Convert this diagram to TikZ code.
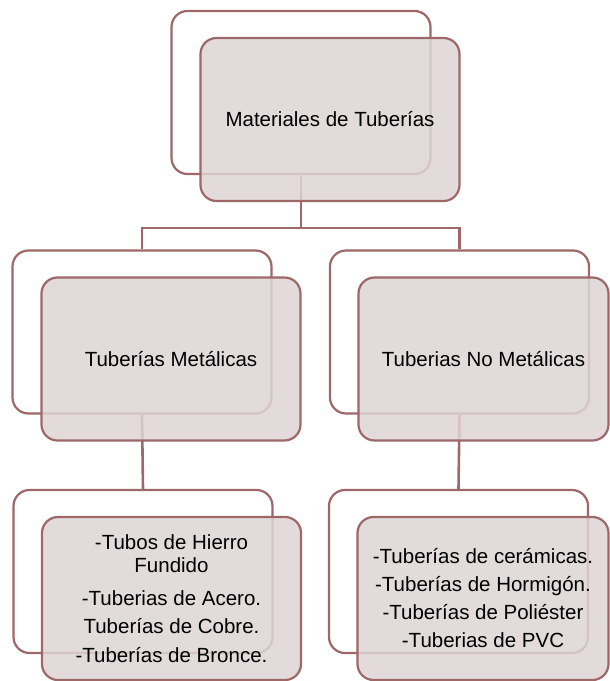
\documentclass[tikz,border=0pt]{standalone}
\usepackage{fontspec}
\setmainfont{Liberation Sans}
\usepackage{tikz}
\usetikzlibrary{positioning, calc}
\definecolor{boxline}{RGB}{158,104,104}
\definecolor{boxfill}{RGB}{222,213,213}
\tikzstyle{backbox} = [rectangle, rounded corners=16pt, minimum width=259pt, minimum height=163pt, draw=boxline, line width=2.2pt, fill=white]
\tikzstyle{frontbox} = [rectangle, rounded corners=16pt, minimum width=259pt, minimum height=163pt, draw=boxline, line width=2.2pt, fill=boxfill, fill opacity=0.85, text opacity=1, align=center, font=\fontsize{20.5}{23}\selectfont]
\tikzstyle{link} = [draw=boxline, line width=2.6pt]

\begin{document}
\begin{tikzpicture}[x=1pt, y=1pt]
    \useasboundingbox (0,0) rectangle (610,681);

    % Back boxes
    \node (top-back) [backbox] at (301,588.5) {};
    \node (metal-back) [backbox] at (142,349) {};
    \node (nometal-back) [backbox] at (459.5,349) {};
    \node (metal-list-back) [backbox] at (143,109.5) {};
    \node (nometal-list-back) [backbox] at (458.5,109.5) {};

    % Connectors
    \coordinate (split) at ($(top-back.south)+(0,-53)$);
    \draw [link] (top-back.south) -- (split);
    \draw [link] (split) -| (metal-back.north);
    \draw [link] (split) -| (nometal-back.north);
    \draw [link] (metal-back.south) -- (metal-list-back.north);
    \draw [link] (nometal-back.south) -- (nometal-list-back.north);

    % Front boxes
    \node (top) [frontbox, on grid, below right=27pt and 29pt of top-back] {Materiales de Tuberías};
    \node (metal) [frontbox, on grid, below right=27pt and 29pt of metal-back] {Tuberías Metálicas};
    \node (nometal) [frontbox, minimum width=250pt, on grid, below right=27pt and 24pt of nometal-back] {Tuberias No Metálicas};
    \node (metal-list) [frontbox, on grid, below right=27pt and 28.5pt of metal-list-back] {-Tubos de Hierro\\Fundido\\[10pt]-Tuberias de Acero.\\[5pt]Tuberías de Cobre.\\[6pt]-Tuberías de Bronce.};
    \node (nometal-list) [frontbox, minimum width=251pt, on grid, below right=27pt and 24.5pt of nometal-list-back] {-Tuberías de cerámicas.\\[5pt]-Tuberías de Hormigón.\\[5pt]-Tuberías de Poliéster\\[5pt]-Tuberias de PVC};
\end{tikzpicture}
\end{document}
